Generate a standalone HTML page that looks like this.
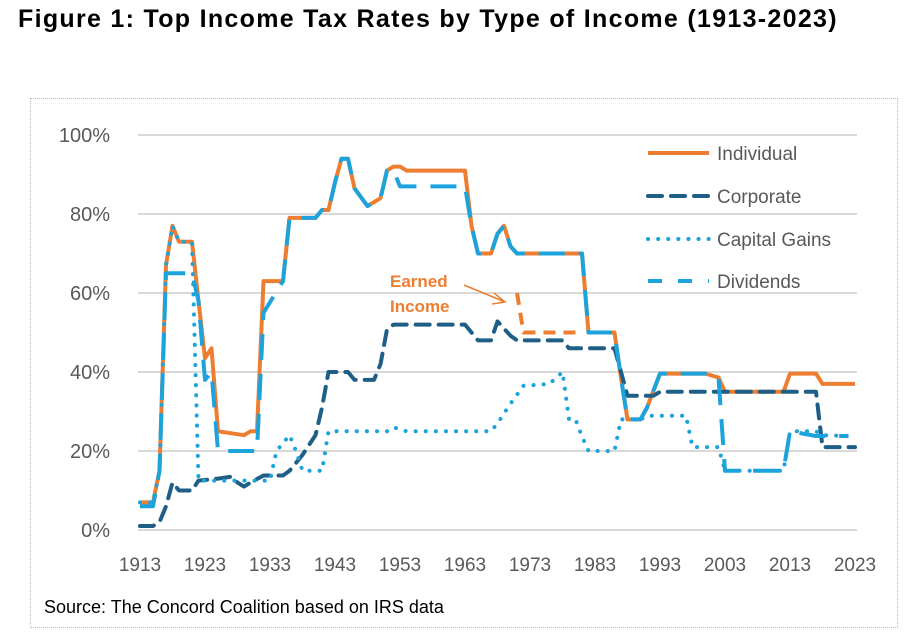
<!DOCTYPE html>
<html><head><meta charset="utf-8">
<style>
body{margin:0;background:#fff;width:916px;height:644px;overflow:hidden;font-family:"Liberation Sans",sans-serif;}
#title{position:absolute;left:18px;top:5px;font-size:25px;font-weight:bold;color:#000;letter-spacing:1.3px;white-space:nowrap}
#frame{position:absolute;left:30px;top:98px;width:866px;height:528px;border:1px dotted #bbb}
svg{position:absolute;left:0;top:0}
</style></head><body>
<div id="title">Figure 1: Top Income Tax Rates by Type of Income (1913-2023)</div>
<div id="frame"></div>
<svg id="chart" width="916" height="644"></svg>
<script>
const yTicks=[0,20,40,60,80,100];
const xTicks=[1913,1923,1933,1943,1953,1963,1973,1983,1993,2003,2013,2023];
const indYears=[1913,1915,1916,1917,1918,1919,1921,1922,1923,1924,1925,1929,1930,1931,1932,1935,1936,1940,1941,1942,1943,1944,1945,1946,1948,1950,1951,1952,1953,1954,1963,1964,1965,1967,1968,1969,1970,1971,1981,1982,1986,1987,1988,1990,1991,1993,2000,2001,2002,2003,2012,2013,2017,2018,2023];
const indVals=[7,7,15,67,77,73,73,58,43.5,46,25,24,25,25,63,63,79,79,81,81,88,94,94,86.5,82,84,91,92,92,91,91,77,70,70,75,77,71.8,70,70,50,50,38.5,28,28,31,39.6,39.6,39.1,38.6,35,35,39.6,39.6,37,37];
const earnYears=[1971,1972,1981];
const earnVals=[60,50,50];
const corpYears=[1913,1915,1916,1917,1918,1919,1921,1922,1925,1927,1928,1929,1930,1932,1935,1936,1938,1940,1941,1942,1945,1946,1949,1950,1951,1952,1963,1964,1965,1967,1968,1970,1971,1978,1979,1986,1987,1988,1992,1993,2017,2018,2023];
const corpVals=[1,1,2,6,12,10,10,12.5,13,13.5,12,11,12,13.8,13.8,15,19,24,31,40,40,38,38,42,50.8,52,52,50,48,48,52.8,49.2,48,48,46,46,40,34,34,35,35,21,21];
const capYears=[1913,1915,1916,1917,1918,1919,1921,1922,1933,1934,1936,1937,1938,1939,1941,1942,1951,1952,1954,1967,1968,1970,1972,1976,1978,1979,1980,1981,1982,1986,1987,1990,1991,1997,1998,2002,2003,2012,2013,2017,2018,2022];
const capVals=[7,7,15,67,77,73,73,12.5,12.5,20,24,20,15,15,15,25,25,26,25,25,27,32,36.5,37,40,28,28,23.7,20,20,28,28,28.9,28.9,21,21,15,15,25,25,24,23.8];
const divYears=[1913,1915,1916,1917,1918,1921,1922,1923,1924,1925,1931,1932,1935,1936,1940,1941,1942,1943,1944,1945,1946,1948,1950,1951,1952,1953,1954,1963,1964,1965,1967,1968,1969,1970,1971,1981,1982,1986,1987,1988,1990,1991,1993,2000,2001,2002,2003,2012,2013,2017,2018,2022];
const divVals=[6,6,15,65,65,65,58,38,40,20,20,55,63,79,79,81,81,88,94,94,86.5,82,84,91,91,87,87,87,77,70,70,75,77,71.8,70,70,50,50,38.5,28,28,31,39.6,39.6,39.1,38.6,15,15,25,23.8,23.8,23.8];

const NS="http://www.w3.org/2000/svg";
const svg=document.getElementById('chart');
const X0=140,X1=855,Y0=530,Y1=135;
function xs(y){return X0+(y-1913)/(2023-1913)*(X1-X0);}
function ys(v){return Y0-v/100*(Y0-Y1);}
function mk(t,a){const e=document.createElementNS(NS,t);for(const k in a)e.setAttribute(k,a[k]);svg.appendChild(e);return e;}
for(const t of yTicks){
  const l=mk('line',{x1:X0-2,x2:X1+2,y1:ys(t),y2:ys(t),stroke:'#d9d9d9','stroke-width':2});
  
  
  const tx=mk('text',{x:X0-30,y:ys(t)+7,'text-anchor':'end','font-size':20,fill:'#595959','font-family':'Liberation Sans, sans-serif'});
  tx.textContent=t+'%';
  
  
}
for(const t of xTicks){
  const tx=mk('text',{x:xs(t),y:571,'text-anchor':'middle','font-size':19,fill:'#595959','font-family':'Liberation Sans, sans-serif'});
  tx.textContent=t;
  
  
}
function series(yrs,vals,color,dash,name,cap){
  const pts=yrs.map((y,i)=>xs(y).toFixed(1)+','+ys(vals[i]).toFixed(1)).join(' ');
  const p=mk('polyline',{points:pts,fill:'none',stroke:color,'stroke-width':4,'stroke-dasharray':dash,'stroke-linecap':cap||'butt','stroke-linejoin':'round'});
  
  
}
series(indYears,indVals,'#ed7d31','none','individual-line');
series(earnYears,earnVals,'#ed7d31','12 8','earned-income-line');
series(corpYears,corpVals,'#1f5f87','14 9','corporate-line','round');
series(capYears,capVals,'#1ca3dc','0.1 10','capital-gains-line','round');
series(divYears,divVals,'#1ca3dc','26 14','dividends-line');
const leg=[['Individual','#ed7d31','none','legend-individual',153,'butt'],['Corporate','#1f5f87','14 9','legend-corporate',196,'round'],['Capital Gains','#1ca3dc','0.1 10','legend-capital-gains',239,'round'],['Dividends','#1ca3dc','14 16','legend-dividends',281,'butt']];
for(const [lab,c,d,n,y,cap] of leg){
  const l=mk('line',{x1:648,x2:709,y1:y,y2:y,stroke:c,'stroke-width':4,'stroke-dasharray':d,'stroke-linecap':cap});
  
  
  const t=mk('text',{x:717,y:y+7,'font-size':19,fill:'#595959','font-family':'Liberation Sans, sans-serif'});
  t.textContent=lab;
  
  
}
const a1=mk('text',{x:390,y:287,'font-size':17,'font-weight':'bold',fill:'#ed7d31','font-family':'Liberation Sans, sans-serif'});a1.textContent='Earned';


const a2=mk('text',{x:390,y:312,'font-size':17,'font-weight':'bold',fill:'#ed7d31','font-family':'Liberation Sans, sans-serif'});a2.textContent='Income';


const ar=mk('path',{d:'M464 285 L505 302 M494 293 L505 302 L492 304',fill:'none',stroke:'#ed7d31','stroke-width':1.5});


const src=mk('text',{x:44,y:613,'font-size':18,fill:'#000','font-family':'Liberation Sans, sans-serif'});src.textContent='Source: The Concord Coalition based on IRS data';


</script>
</body></html>
